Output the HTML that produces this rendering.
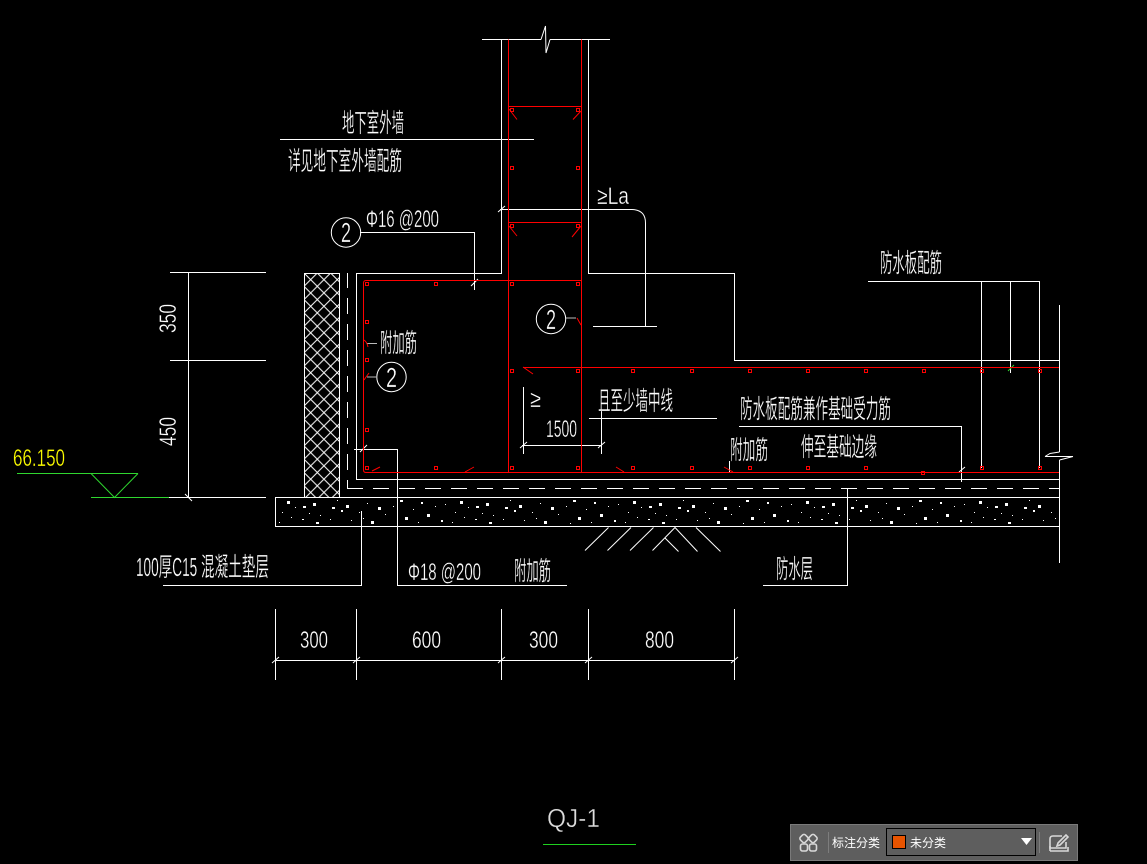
<!DOCTYPE html>
<html lang="zh"><head><meta charset="utf-8"><title>QJ-1</title>
<style>
html,body{margin:0;padding:0;background:#000;width:1147px;height:864px;overflow:hidden}
svg{position:absolute;left:0;top:0}
text{font-family:"Liberation Sans","Noto Sans CJK SC",sans-serif;fill:#fff}
.c{font-size:26px;stroke:#000;stroke-width:.3px}.n{font-size:24px;stroke:#000;stroke-width:.35px}
.d{font-size:28px;stroke:#000;stroke-width:.35px}
</style></head><body>
<svg width="1147" height="864" viewBox="0 0 1147 864" xmlns="http://www.w3.org/2000/svg">
<defs>
<pattern id="hatch" x="304" y="273" width="13.3" height="13.3" patternUnits="userSpaceOnUse">
<path d="M0 0L13.3 13.3M13.3 0L0 13.3" stroke="#fff" stroke-width="1" fill="none"/>
</pattern>
<pattern id="sp" x="275" y="498" width="173" height="28" patternUnits="userSpaceOnUse">
<g fill="#fff">
<rect x="12" y="3" width="3" height="3"/><rect x="20" y="9" width="1" height="1"/><rect x="28" y="8" width="3" height="2"/><rect x="7" y="14" width="1" height="1"/><rect x="16" y="19" width="1" height="1"/><rect x="27" y="21" width="2" height="1"/>
<rect x="38" y="5" width="3" height="3"/><rect x="45" y="17" width="1" height="1"/><rect x="41" y="24" width="3" height="2"/><rect x="57" y="9" width="3" height="2"/><rect x="55" y="21" width="1" height="1"/><rect x="66" y="12" width="2" height="2"/>
<rect x="71" y="7" width="3" height="3"/><rect x="76" y="22" width="1" height="1"/><rect x="84" y="14" width="1" height="1"/><rect x="92" y="5" width="1" height="1"/><rect x="96" y="23" width="3" height="3"/><rect x="103" y="9" width="3" height="3"/>
<rect x="110" y="16" width="1" height="1"/><rect x="118" y="8" width="1" height="1"/><rect x="125" y="2" width="3" height="2"/><rect x="130" y="19" width="3" height="3"/><rect x="138" y="11" width="1" height="1"/><rect x="146" y="4" width="2" height="2"/>
<rect x="152" y="16" width="3" height="3"/><rect x="160" y="8" width="1" height="1"/><rect x="166" y="22" width="2" height="2"/><rect x="34" y="15" width="1" height="1"/><rect x="88" y="20" width="1" height="1"/><rect x="143" y="24" width="1" height="1"/>
<rect x="4" y="24" width="1" height="1"/><rect x="62" y="2" width="1" height="1"/><rect x="122" y="25" width="1" height="1"/><rect x="170" y="6" width="1" height="1"/>
</g>
</pattern>
</defs>
<rect width="1147" height="864" fill="#000"/>

<!-- concrete and insulation -->
<rect x="275.5" y="497.5" width="784" height="29" fill="url(#sp)"/>
<rect x="304.5" y="273.5" width="35" height="224" fill="url(#hatch)"/>

<g shape-rendering="crispEdges" fill="none" stroke="#fff" stroke-width="1">
<!-- insulation and concrete frames -->
<rect x="304.5" y="273.5" width="35" height="224"/>
<rect x="275.5" y="497.5" width="784" height="29"/>
<!-- wall top -->
<path d="M482 39.5H541M550 39.5H610"/>
<path d="M501.5 39.5V273.5H356.5V479.5H1059.5"/>
<path d="M588.5 39.5V273.5H734.5V360.5H1059.5"/>
<!-- break line right -->
<path d="M1059.5 305V452M1045 456.5H1073M1059.5 460V563"/>
<!-- dashed waterproof -->
<path d="M347.5 480V488.5H363" />
<path d="M347.5 470V273" stroke-dasharray="16 10"/>
<path d="M373 488.5H1059" stroke-dasharray="16 10"/>
<!-- leaders -->
<path d="M280 139.5H534"/>
<path d="M360 232.5H474.5V290"/>
<path d="M500 209.5H632"/>
<path d="M645.5 223V326.5"/>
<path d="M593 326.5H657"/>
<path d="M868 281.5H1039.5V468"/>
<path d="M981.5 281.5V468M1010.5 281.5V373"/>
<path d="M739 426.5H961.5V482"/>
<path d="M589 418.5H717"/>
<path d="M601.5 410V454M523.5 387V454M522 445.5H602"/>
<path d="M847.5 488.5V585.5H763"/>
<path d="M361.5 511V585.5H163"/>
<path d="M354 449.5H397.5V585.5H567"/>
<path d="M729.5 461V472"/>
<!-- left dims -->
<path d="M170 272.5H266M170 360.5H266M169 497.5H266M188.5 272.5V497.5"/>
<!-- bottom dims -->
<path d="M275.5 609V680M356.5 609V680M501.5 609V680M588.5 609V680M734.5 609V680M275 660.5H735"/>
</g>

<!-- curved and diagonal linework -->
<g fill="none" stroke="#fff" stroke-width="1">
<path d="M541 39.5L545.5 26L546 53L550 39.5"/>
<path d="M1059.5 452L1050 453.5L1045 456.5M1073 456.5L1059.5 460"/>
<path d="M632 209.5Q645.5 210 645.5 223"/>
<path d="M498 212L505 206M272 663L279 657M353 663L360 657M498 663L505 657M585 663L592 657M731 663L738 657M185 494L192 501M471 286L478 279M598 448L605 442M520 448L527 442M959 472L965 467M360 452L367 445"/>
<path d="M585 550.5L608.5 527.5M607.5 550.5L631 527.5M630 550.5L653.5 527.5M652.5 550.5L675 527.5L697.5 551.5M665 538L678.5 551.5M696 527.5L720.5 551.5"/>
<circle cx="346" cy="232.5" r="14.7"/><circle cx="551" cy="319" r="14.7"/><circle cx="391.5" cy="377" r="14.7"/>
</g>
<path d="M367 343.5H377M376 377H367M566 318H576" stroke="#bbb" fill="none" stroke-width="1" shape-rendering="crispEdges"/>

<!-- level mark -->
<g fill="none" stroke="#2fd62f" stroke-width="1">
<path d="M17 473.5H138M91 497.5H169" shape-rendering="crispEdges"/>
<path d="M91 473.5L114.5 497.5L138 473.5"/>
<path d="M1008 371L1014 365" />
</g>

<!-- rebar -->
<g fill="none" stroke="#f00" stroke-width="1" shape-rendering="crispEdges">
<path d="M508.5 39.5V472.5M581.5 39.5V472.5"/>
<path d="M509 106.5H581M509 222.5H581"/>
<path d="M366 280.5H581.5"/>
<path d="M363.5 283V470"/>
<path d="M366 472.5H1059"/>
<path d="M523 367.5H1059"/>
</g>
<g fill="none" stroke="#f00" stroke-width="1">
<path d="M363.5 283Q363.5 280.5 366 280.5M363.5 470Q363.5 472.5 366 472.5"/>
<path d="M509 109L517 119.5M581 111L573 119.5M509 226L517 236M581 226L572 237"/>
<path d="M577 318L581 325M523 367L533 374M364 340Q367 342 368 347M364 380Q366 377 369 373M372 471L380 467M465 472L474 467M616 467L624 472M724 467L733 472"/>
</g>
<g fill="none" stroke="#f00" stroke-width="1" shape-rendering="crispEdges">
<rect x="510.5" y="108.5" width="3" height="3"/><rect x="576.5" y="108.5" width="3" height="3"/>
<rect x="510.5" y="166.5" width="3" height="3"/><rect x="576.5" y="166.5" width="3" height="3"/>
<rect x="510.5" y="224.5" width="3" height="3"/><rect x="576.5" y="224.5" width="3" height="3"/>
<rect x="365.5" y="282.5" width="3" height="3"/><rect x="434.5" y="282.5" width="3" height="3"/><rect x="510.5" y="282.5" width="3" height="3"/><rect x="576.5" y="282.5" width="3" height="3"/>
<rect x="365.5" y="320.5" width="3" height="3"/><rect x="365.5" y="358.5" width="3" height="3"/><rect x="365.5" y="428.5" width="3" height="3"/>
<rect x="510.5" y="369.5" width="3" height="3"/><rect x="576.5" y="369.5" width="3" height="3"/><rect x="631.5" y="369.5" width="3" height="3"/><rect x="690.5" y="369.5" width="3" height="3"/><rect x="748.5" y="369.5" width="3" height="3"/><rect x="806.5" y="369.5" width="3" height="3"/><rect x="864.5" y="369.5" width="3" height="3"/><rect x="922.5" y="369.5" width="3" height="3"/><rect x="980.5" y="369.5" width="3" height="3"/><rect x="1038.5" y="369.5" width="3" height="3"/>
<rect x="365.5" y="466.5" width="3" height="3"/><rect x="434.5" y="466.5" width="3" height="3"/><rect x="510.5" y="466.5" width="3" height="3"/><rect x="576.5" y="466.5" width="3" height="3"/><rect x="631.5" y="466.5" width="3" height="3"/><rect x="690.5" y="466.5" width="3" height="3"/><rect x="748.5" y="466.5" width="3" height="3"/><rect x="806.5" y="466.5" width="3" height="3"/><rect x="864.5" y="466.5" width="3" height="3"/><rect x="921.5" y="471.5" width="3" height="3"/><rect x="980.5" y="466.5" width="3" height="3"/><rect x="1038.5" y="466.5" width="3" height="3"/>
</g>

<!-- labels -->
<g>
<text class="c" x="342" y="132" textLength="62" lengthAdjust="spacingAndGlyphs">地下室外墙</text>
<text class="c" x="288" y="170" textLength="114" lengthAdjust="spacingAndGlyphs">详见地下室外墙配筋</text>
<text class="n" x="366" y="227" textLength="73" lengthAdjust="spacingAndGlyphs">Φ16 @200</text>
<text class="n" x="597" y="204" textLength="32" lengthAdjust="spacingAndGlyphs">≥La</text>
<text class="d" x="341" y="242" textLength="10" lengthAdjust="spacingAndGlyphs">2</text>
<text class="d" x="546" y="329" textLength="10" lengthAdjust="spacingAndGlyphs">2</text>
<text class="d" x="386" y="387" textLength="11" lengthAdjust="spacingAndGlyphs">2</text>
<text class="c" x="380" y="352" textLength="37" lengthAdjust="spacingAndGlyphs">附加筋</text>
<text class="c" x="598" y="410" textLength="75" lengthAdjust="spacingAndGlyphs">且至少墙中线</text>
<text class="n" x="530" y="407" textLength="11" lengthAdjust="spacingAndGlyphs">≥</text>
<text class="n" x="546" y="437" textLength="31" lengthAdjust="spacingAndGlyphs">1500</text>
<text class="c" x="880" y="272" textLength="62" lengthAdjust="spacingAndGlyphs">防水板配筋</text>
<text class="c" x="740" y="418" textLength="151" lengthAdjust="spacingAndGlyphs">防水板配筋兼作基础受力筋</text>
<text class="c" x="730" y="459" textLength="38" lengthAdjust="spacingAndGlyphs">附加筋</text>
<text class="c" x="801" y="456" textLength="76" lengthAdjust="spacingAndGlyphs">伸至基础边缘</text>
<text class="c" x="776" y="578" textLength="37" lengthAdjust="spacingAndGlyphs">防水层</text>
<text class="c" x="136" y="576" textLength="133" lengthAdjust="spacingAndGlyphs">100厚C15 混凝土垫层</text>
<text class="n" x="408" y="580" textLength="73" lengthAdjust="spacingAndGlyphs">Φ18 @200</text>
<text class="c" x="514" y="580" textLength="37" lengthAdjust="spacingAndGlyphs">附加筋</text>
<text class="n" x="300" y="648" textLength="28" lengthAdjust="spacingAndGlyphs">300</text>
<text class="n" x="412" y="648" textLength="29" lengthAdjust="spacingAndGlyphs">600</text>
<text class="n" x="529" y="648" textLength="29" lengthAdjust="spacingAndGlyphs">300</text>
<text class="n" x="645" y="648" textLength="29" lengthAdjust="spacingAndGlyphs">800</text>
<text class="n" transform="translate(176 333) rotate(-90)" x="0" y="0" textLength="29" lengthAdjust="spacingAndGlyphs">350</text>
<text class="n" transform="translate(176 446) rotate(-90)" x="0" y="0" textLength="29" lengthAdjust="spacingAndGlyphs">450</text>
<text class="n" x="13" y="466" textLength="52" lengthAdjust="spacingAndGlyphs" style="fill:#ff0">66.150</text>
<text x="547" y="827" font-size="26" textLength="53" lengthAdjust="spacingAndGlyphs" style="fill:#ddd;stroke:#000;stroke-width:.4px">QJ-1</text>
</g>
<path d="M543 844.5H636" stroke="#1fd01f" stroke-width="1" shape-rendering="crispEdges"/>

<!-- toolbar -->
<g shape-rendering="crispEdges">
<rect x="790.5" y="824.5" width="287" height="36" fill="#5e5e5e" stroke="#7a7a7a"/>
<rect x="828" y="832" width="1" height="21" fill="#7d7d7d"/>
<rect x="886.5" y="828.5" width="149" height="27" fill="#5e5e5e" stroke="#000"/>
<rect x="892.5" y="835.5" width="13" height="13" fill="#e85400" stroke="#000"/>
<rect x="1039" y="832" width="1" height="21" fill="#7d7d7d"/>
</g>
<g fill="none" stroke="#d8d8d8" stroke-width="1.6">
<rect x="800.5" y="835" width="7" height="7" rx="2" transform="rotate(45 804 838.5)"/>
<rect x="809.5" y="835" width="7" height="7" rx="2" transform="rotate(45 813 838.5)"/>
<rect x="800.5" y="844" width="7" height="7" rx="2"/>
<rect x="809.5" y="844" width="7" height="7" rx="2"/>
<path d="M1062 836H1053Q1050 836 1050 839V848H1066V842"/>
<path d="M1050 851V846M1050 851H1068V847M1058 843L1066 835L1068 837L1060 845L1057 846Z"/>
</g>
<path d="M1021 838H1032L1026.5 845Z" fill="#fff"/>
<text x="832" y="847" font-size="12" style="fill:#fff">标注分类</text>
<text x="910" y="847" font-size="12" style="fill:#fff">未分类</text>
</svg>
</body></html>
